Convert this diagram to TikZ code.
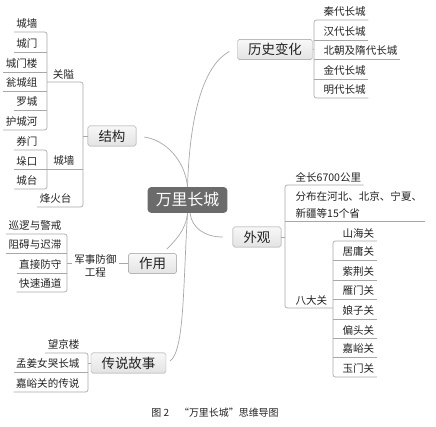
\documentclass[tikz,border=0pt]{standalone}
\usepackage{fontspec}
\setmainfont{Noto Sans CJK SC}
\usepackage{tikz}
\usetikzlibrary{calc}

\definecolor{linegray}{HTML}{A8A8A8}
\definecolor{boxline}{HTML}{9A9A9A}
\definecolor{rootgray}{HTML}{6B6B6B}
\definecolor{ink}{HTML}{222222}

\begin{document}
\begin{tikzpicture}[x=0.03cm, y=-0.03cm,
  link/.style={draw=linegray, line width=0.6pt},
  bracket/.style={link, rounded corners=2pt},
  topic/.style={draw=boxline, top color=gray!6, bottom color=gray!22, rounded corners=1.5pt,
    font=\fontsize{11.5}{13}\selectfont, text=ink, inner xsep=9pt, minimum height=17pt},
  root/.style={fill=rootgray, rounded corners=3pt, text=white,
    font=\fontsize{13.5}{15}\selectfont, inner xsep=7pt, minimum height=22pt},
  leaf/.style={font=\fontsize{9}{14}\selectfont, text=ink, inner xsep=2pt, inner ysep=2.5pt}]
  \useasboundingbox (0,0) rectangle (436,427);

  % Central topic and main branches
  \node[root] (wl) at (187.5,200) {万里长城};
  \node[topic] (hist) at (275,49.5) {历史变化};
  \node[topic] (jg) at (112,136) {结构};
  \node[topic] (wg) at (257,237) {外观};
  \node[topic] (zy) at (152.5,263.5) {作用};
  \node[topic] (cs) at (128.5,363) {传说故事};

  % Curved links from the centre
  \draw[link] (wl.north) .. controls +(2.5,-77) and +(-24.5,13.5) .. ($(hist.west)+(-8,2)$);
  \draw[link] (wl.north) .. controls +(-2.5,-27) and +(21,3) .. ($(jg.east)+(8,1)$);
  \draw[link] (wl.south) .. controls +(-1.5,17) and +(8,-8) .. ($(zy.north east)+(-10,-4)$);
  \draw[link] (wl.south) .. controls +(-4.5,77) and +(14,-11) .. ($(cs.east)+(4,-2)$);
  \draw[link] ($(wl.south)+(2.5,0)$) .. controls +(2,15) and +(-18,0) .. ($(wg.west)+(-10,0)$);

  % Bracket lines
  \coordinate (hbar) at (314,0);
  \coordinate (wbar) at (285,0);
  \coordinate (dbar) at (333,0);
  \coordinate (jbar) at (83,0);
  \coordinate (gbar) at (47,0);
  \coordinate (zbar) at (67,0);
  \coordinate (cbar) at (88,0);

  % History
  \foreach \t/\y [count=\i] in {秦代长城/20, 汉代长城/40, 北朝及隋代长城/59, 金代长城/79, 明代长城/98}
    \node[leaf, anchor=south west] (h\i) at (321,\y) {\t};
  \draw[link] (hist.east) -- (hbar |- hist.east);
  \draw[bracket] (h1.south east) -- (hbar |- h1.south) -- (hbar |- h5.south) -- (h5.south east);
  \foreach \i in {2,3,4}
    \draw[link] (hbar |- h\i.south) -- (h\i.south east);

  % Appearance
  \node[leaf, anchor=south west] (w1) at (293,185) {全长6700公里};
  \node[leaf, anchor=south west, align=left] (w2) at (293,221) {分布在河北、北京、宁夏、\\新疆等15个省};
  \node[leaf, anchor=south west] (w3) at (293,308) {八大关};
  \draw[link] (wg.east) -- (wbar |- wg.east);
  \draw[bracket] (w1.south east) -- (wbar |- w1.south) -- (wbar |- w3.south) -- (dbar |- w3.south);
  \draw[link] (wbar |- w2.south) -- (w2.south east);

  \foreach \t/\y [count=\i] in {山海关/241, 居庸关/260, 紫荆关/280, 雁门关/299, 娘子关/319, 偏头关/338, 嘉峪关/357, 玉门关/377}
    \node[leaf, anchor=south west] (d\i) at (340,\y) {\t};
  \draw[bracket] (d1.south east) -- (dbar |- d1.south) -- (dbar |- d8.south) -- (d8.south east);
  \foreach \i in {2,...,7}
    \draw[link] (dbar |- d\i.south) -- (d\i.south east);

  % Structure
  \node[leaf, anchor=south] (gk) at (63.5,82) {关隘};
  \node[leaf, anchor=south] (cq) at (64,169) {城墙};
  \node[leaf, anchor=south east] (fht) at (74,207) {烽火台};
  \draw[link] (jg.west) -- (jbar |- jg.west);
  \draw[bracket] (gbar |- gk.south) -- (jbar |- gk.south) -- (jbar |- fht.south) -- (fht.south west);
  \draw[link] (gbar |- cq.south) -- (jbar |- cq.south);

  \foreach \t/\y [count=\i] in {城墙/32, 城门/52, 城门楼/72, 瓮城组/91, 罗城/110, 护城河/130}
    \node[leaf, anchor=south east] (g\i) at (40,\y) {\t};
  \draw[bracket] (g1.south west) -- (gbar |- g1.south) -- (gbar |- g6.south) -- (g6.south west);
  \foreach \i in {2,...,5}
    \draw[link] (g\i.south west) -- (gbar |- g\i.south);

  \foreach \t/\y [count=\i] in {券门/150, 垛口/169, 城台/189}
    \node[leaf, anchor=south east] (q\i) at (40,\y) {\t};
  \draw[bracket] (q1.south west) -- (gbar |- q1.south) -- (gbar |- q3.south) -- (q3.south west);
  \draw[link] (q2.south west) -- (gbar |- q2.south);

  % Function
  \node[leaf, align=center, font=\fontsize{9}{11}\selectfont] (jsfy) at (95.5,266) {军事防御\\工程};
  \draw[link] (zy.west) -- (jsfy.east |- zy.west);
  \draw[link] (jsfy.west |- zy.west) -- (zbar |- zy.west);
  \foreach \t/\y [count=\i] in {巡逻与警戒/234, 阻碍与迟滞/253, 直接防守/273, 快速通道/292}
    \node[leaf, anchor=south east] (z\i) at (64,\y) {\t};
  \draw[bracket] (z1.south west) -- (zbar |- z1.south) -- (zbar |- z4.south) -- (z4.south west);
  \foreach \i in {2,3}
    \draw[link] (z\i.south west) -- (zbar |- z\i.south);

  % Legends
  \foreach \t/\y [count=\i] in {望京楼/353, 孟姜女哭长城/372, 嘉峪关的传说/392}
    \node[leaf, anchor=south east] (c\i) at (82,\y) {\t};
  \draw[link] (cs.west) -- (cbar |- cs.west);
  \draw[bracket] (c1.south west) -- (cbar |- c1.south) -- (cbar |- c3.south) -- (c3.south west);
  \draw[link] (c2.south west) -- (cbar |- c2.south);

  % Caption
  \node[font=\fontsize{8.5}{10}\selectfont, text=ink] (cap) at (215,413) {图 2\quad “万里长城”思维导图};
\end{tikzpicture}
\end{document}
